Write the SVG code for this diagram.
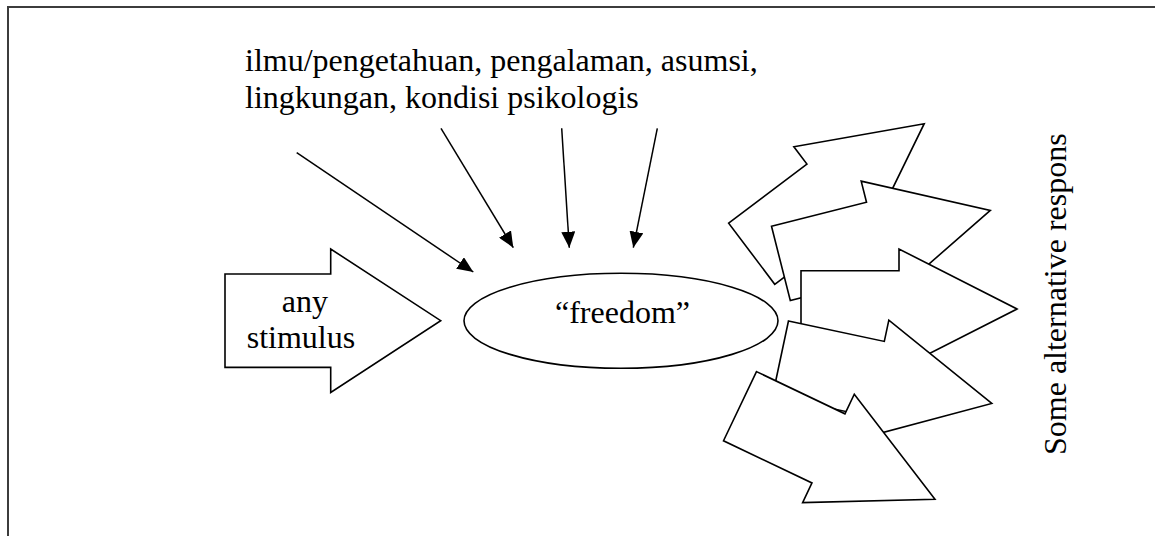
<svg xmlns="http://www.w3.org/2000/svg" width="1155" height="536" viewBox="0 0 1155 536">
  <style>
    .lbl { font-family: "Liberation Serif", "Times New Roman", serif; font-size: 32px; fill: #000; }
    .blk { fill: #fff; stroke: #000; stroke-width: 1.6; stroke-linejoin: miter; }
    .wire { stroke: #000; stroke-width: 1.5; fill: none; }
  </style>
  <defs>
    <marker id="head" viewBox="0 0 16 14" markerWidth="16" markerHeight="14" refX="16" refY="7" orient="auto" markerUnits="userSpaceOnUse">
      <path d="M0,0 L16,7 L0,14 z" fill="#000"/>
    </marker>
    <!-- block arrow pointing +x, back edge centred on the origin -->
    <polygon id="resp" points="0,-38.3 98,-38.3 98,-60 216,0 98,60 98,38.3 0,38.3"/>
  </defs>

  <rect x="0" y="0" width="1155" height="536" fill="#fff"/>
  <!-- page frame (only top and left edges fall inside the view) -->
  <path d="M8,540 L8,7 L1160,7" fill="none" stroke="#3c3c3c" stroke-width="2"/>

  <g id="factors">
    <text class="lbl" x="245" y="71">ilmu/pengetahuan, pengalaman, asumsi,</text>
    <text class="lbl" x="245" y="108">lingkungan, kondisi psikologis</text>
  </g>

  <g id="connectors">
    <line class="wire" x1="296.7" y1="152.7" x2="473.3" y2="272" marker-end="url(#head)"/>
    <line class="wire" x1="441" y1="128.3" x2="513.3" y2="247.7" marker-end="url(#head)"/>
    <line class="wire" x1="561.7" y1="128.3" x2="569.3" y2="247.7" marker-end="url(#head)"/>
    <line class="wire" x1="657.3" y1="128.3" x2="633.3" y2="247.7" marker-end="url(#head)"/>
  </g>

  <g id="stimulus">
    <polygon class="blk" points="225,274 330.7,274 330.7,249 440.7,320.7 330.7,392.4 330.7,367.4 225,367.4"/>
    <text class="lbl" x="281.7" y="311.7">any</text>
    <text class="lbl" x="246.7" y="348.3">stimulus</text>
  </g>

  <g id="freedom">
    <ellipse class="blk" cx="621" cy="320.8" rx="157" ry="47.5"/>
    <text class="lbl" x="555" y="323.3">“freedom”</text>
  </g>

  <g id="responses">
    <use href="#resp" class="blk" transform="translate(751.7,253.7) rotate(-37)"/>
    <use href="#resp" class="blk" transform="translate(780.9,263.4) rotate(-14.2)"/>
    <use href="#resp" class="blk" transform="translate(801,309) rotate(0)"/>
    <use href="#resp" class="blk" transform="translate(780.5,358.5) rotate(12)"/>
    <use href="#resp" class="blk" transform="translate(740,406.2) rotate(25.5)"/>
  </g>

  <g id="responses-label">
    <text class="lbl" transform="translate(1066,455) rotate(-90)">Some alternative respons</text>
  </g>
</svg>
